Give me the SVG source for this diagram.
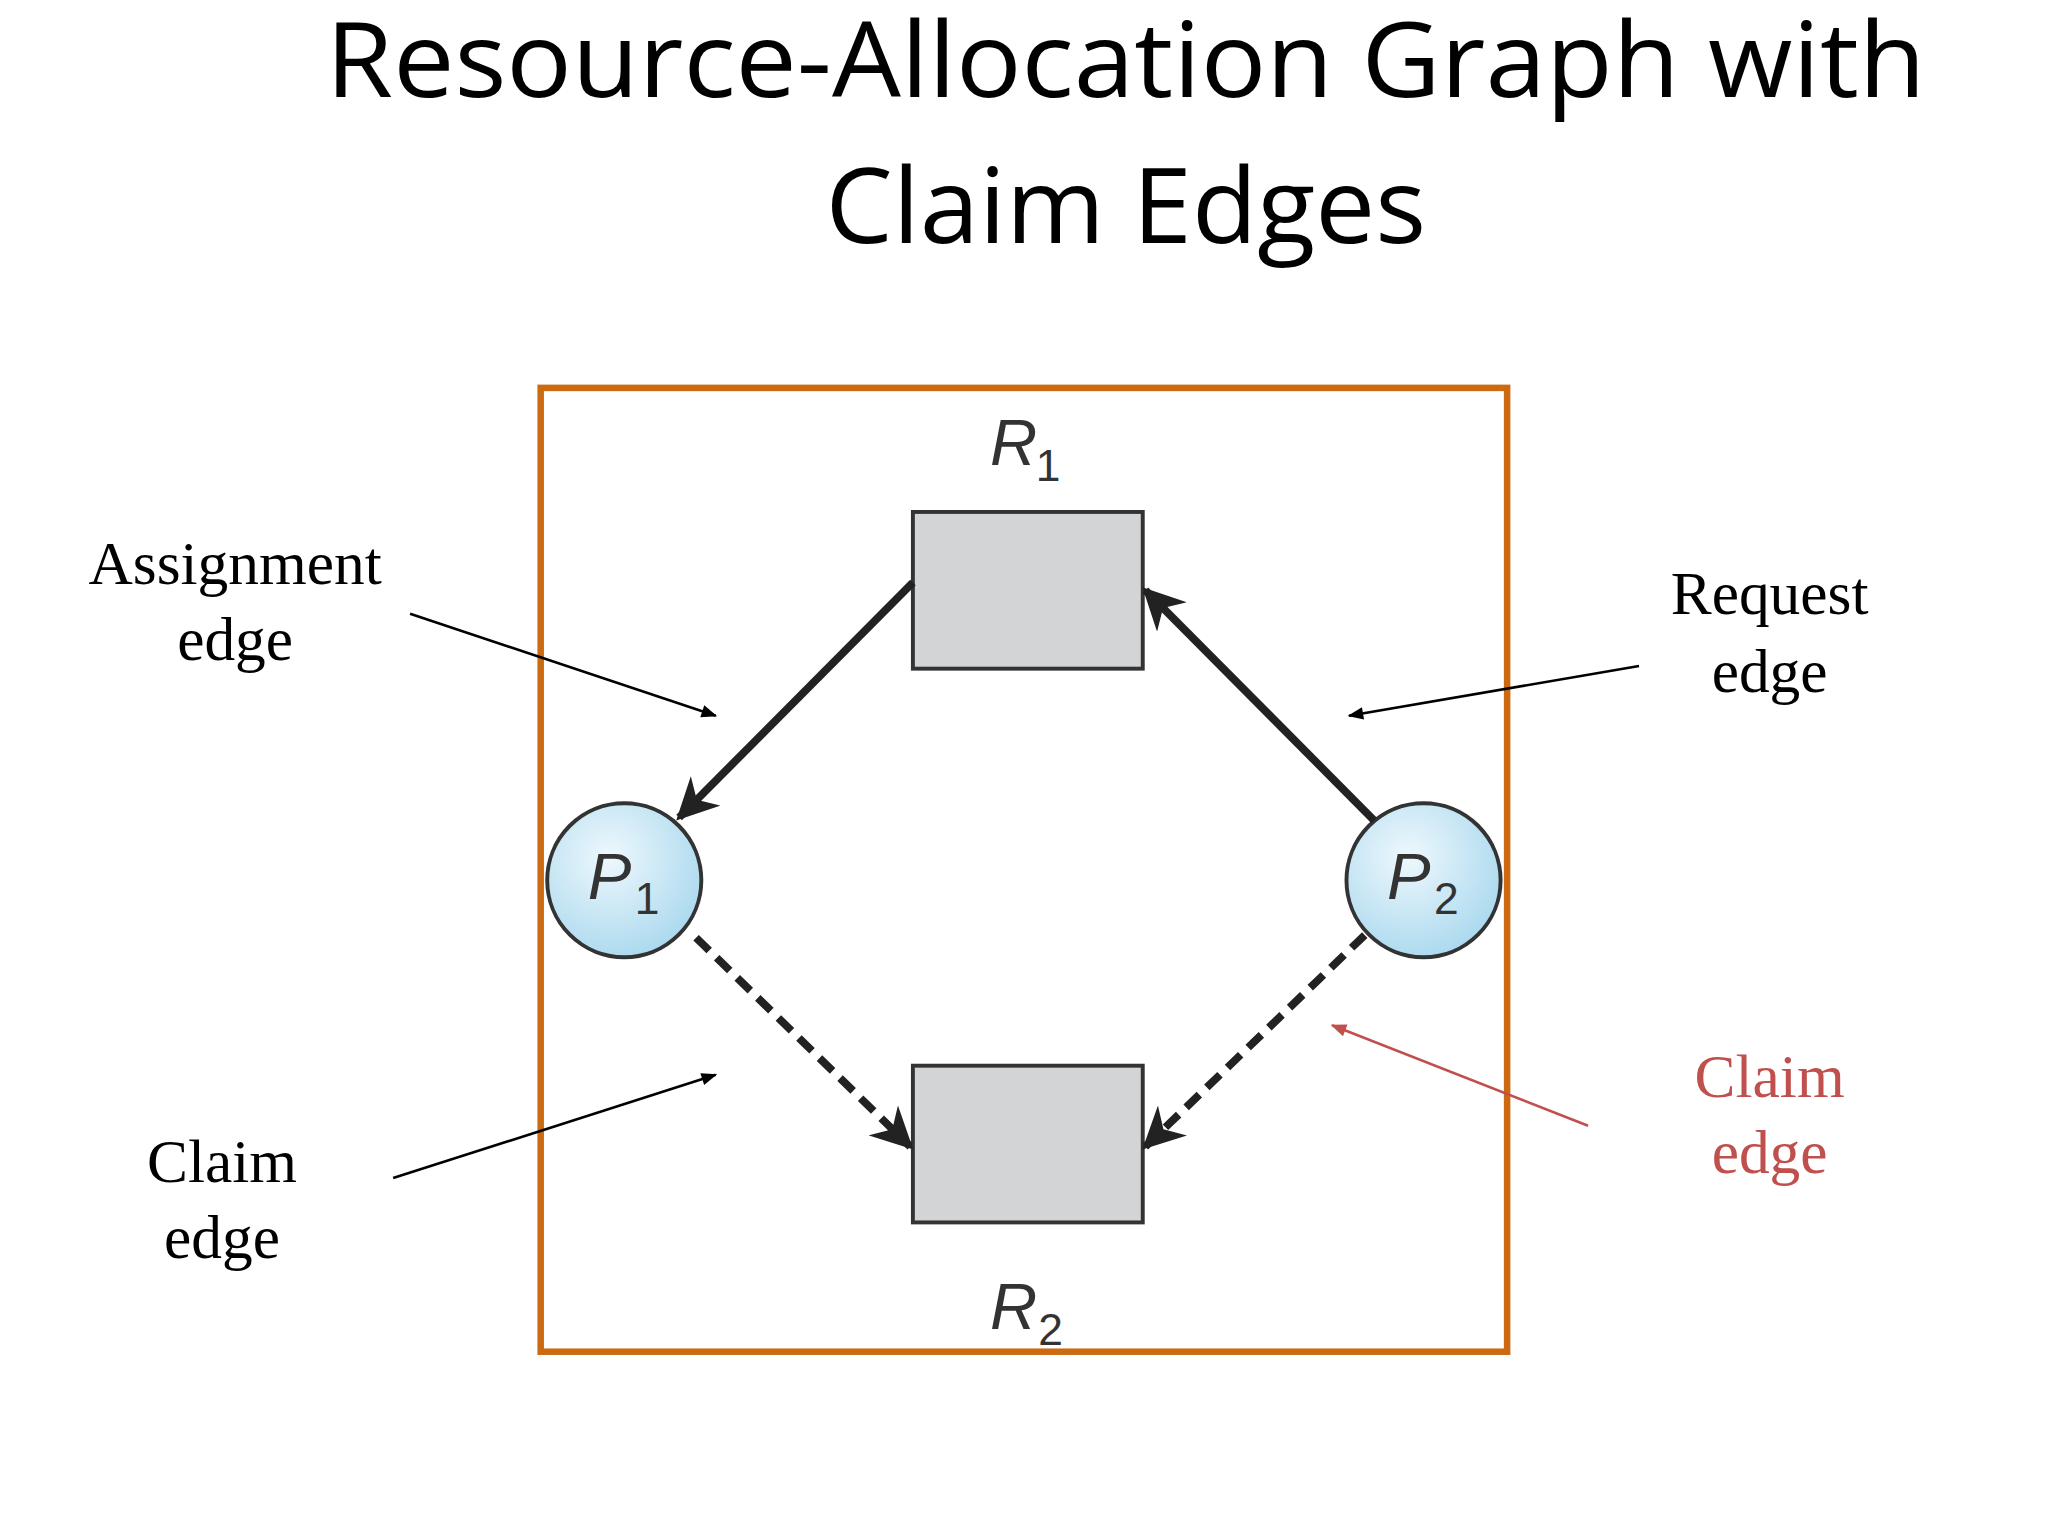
<svg xmlns="http://www.w3.org/2000/svg" width="2048" height="1536" viewBox="0 0 2048 1536">
<defs>
<marker id="bigA" viewBox="0 0 10 10" refX="9" refY="5" markerWidth="32" markerHeight="32" markerUnits="userSpaceOnUse" orient="auto"><path d="M0,0 L10,5 L0,10 L3,5 Z" fill="#222"/></marker>
<marker id="sm" viewBox="0 0 10 10" refX="9" refY="5" markerWidth="16" markerHeight="12" markerUnits="userSpaceOnUse" orient="auto"><path d="M0,1 L10,5 L0,9 Z" fill="#000"/></marker>
<marker id="smR" viewBox="0 0 10 10" refX="9" refY="5" markerWidth="16" markerHeight="12" markerUnits="userSpaceOnUse" orient="auto"><path d="M0,1 L10,5 L0,9 Z" fill="#c0504d"/></marker>
<radialGradient id="pg" cx="0.4" cy="0.35" r="0.7"><stop offset="0" stop-color="#eef8fd"/><stop offset="1" stop-color="#a9d8ee"/></radialGradient>
<style>
.t{font-family:"Open Sans","Liberation Sans",sans-serif;font-size:80px;fill:#000;text-anchor:middle}
.s{font-family:"Liberation Serif",serif;font-size:47px;fill:#000;text-anchor:middle}
.l{font-family:"Liberation Sans",sans-serif;font-size:50px;font-style:italic;fill:#333}
.sub{font-family:"Liberation Sans",sans-serif;font-size:34px;fill:#333}
.res{fill:#d3d4d6;stroke:#333;stroke-width:3}
.proc{fill:url(#pg);stroke:#333;stroke-width:3}
.e{stroke:#222;stroke-width:6;fill:none}
.a{stroke:#000;stroke-width:2;fill:none}
</style>
</defs>
<g transform="scale(1.306)">
<g id="title">
<text class="t" x="862" y="74" textLength="1225" lengthAdjust="spacingAndGlyphs">Resource-Allocation Graph with</text>
<text class="t" x="862" y="186" textLength="460" lengthAdjust="spacingAndGlyphs">Claim Edges</text>
</g>
<rect x="414" y="297" width="740" height="738" fill="#fff" stroke="#cc6a12" stroke-width="5"/>
<g id="R1"><rect class="res" x="699" y="392" width="176" height="120"/><text class="l" x="758" y="356">R</text><text class="sub" x="793" y="368">1</text></g>
<g id="R2"><rect class="res" x="699" y="816" width="176" height="120"/><text class="l" x="758" y="1018">R</text><text class="sub" x="795" y="1030">2</text></g>
<g id="P1"><circle class="proc" cx="478" cy="674" r="59"/><text class="l" x="450" y="688">P</text><text class="sub" x="486" y="700">1</text></g>
<g id="P2"><circle class="proc" cx="1090" cy="674" r="59"/><text class="l" x="1062" y="688">P</text><text class="sub" x="1098" y="700">2</text></g>
<g id="connectors">
<line class="e" x1="699" y1="446" x2="520" y2="626" marker-end="url(#bigA)"/>
<line class="e" x1="1052" y1="628" x2="877" y2="452" marker-end="url(#bigA)"/>
<line class="e" x1="533" y1="718" x2="697" y2="878" stroke-dasharray="14,8" marker-end="url(#bigA)"/>
<line class="e" x1="1045" y1="716" x2="877" y2="878" stroke-dasharray="14,8" marker-end="url(#bigA)"/>
<line class="a" x1="314" y1="470" x2="548" y2="548" marker-end="url(#sm)"/>
<line class="a" x1="1255" y1="510" x2="1033" y2="548" marker-end="url(#sm)"/>
<line class="a" x1="301" y1="902" x2="548" y2="823" marker-end="url(#sm)"/>
<line x1="1216" y1="862" x2="1020" y2="785" stroke="#c0504d" stroke-width="2" marker-end="url(#smR)"/>
</g>
<g id="labels">
<text class="s" x="180" y="447">Assignment</text><text class="s" x="180" y="505">edge</text>
<text class="s" x="1355" y="470">Request</text><text class="s" x="1355" y="530">edge</text>
<text class="s" x="170" y="905">Claim</text><text class="s" x="170" y="963">edge</text>
<text class="s" x="1355" y="840" style="fill:#c0504d">Claim</text><text class="s" x="1355" y="898" style="fill:#c0504d">edge</text>
</g>
</g>
</svg>
